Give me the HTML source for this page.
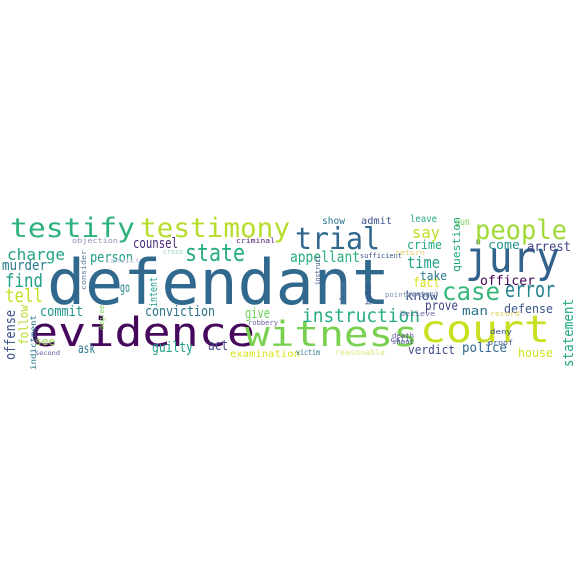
<!DOCTYPE html>
<html><head><meta charset="utf-8"><style>
html,body{margin:0;padding:0;background:#fff;width:576px;height:576px;overflow:hidden}
svg text{font-family:"DejaVu Sans Mono","Liberation Mono",monospace}
</style></head><body>
<svg id="cloud" width="576" height="576" xmlns="http://www.w3.org/2000/svg">
<rect width="576" height="576" fill="#fff"/>
</svg>
<script>
const words = ["defendant","evidence","witness","court","jury","trial","testify","testimony","people","state","case","error","instruction","charge","find","tell","murder","counsel","person","commit","conviction","give","guilty","act","ask","see","appellant","say","time","crime","come","arrest","officer","fact","take","know","prove","man","defense","verdict","police","house","show","admit","leave","gun","go","examination","objection","criminal","sufficient","victim","reasonable","robbery","second","cross","convict","return","record","believe","room","point","contend","call","death","shoot","deny","proof"];
const xs =  [47,30,245,420,465,295,10,140,475,185,442,505,302,7,5,5,2,133,90,40,145,245,152,208,78,35,290,412,407,407,488,527,480,413,420,405,425,462,504,408,462,518,322,361,410,455,120,230,72,236,360,296,335,248,35,163,105,395,490,400,405,385,408,390,392,392,490,488];
const ys =  [304,346,346,342,272,249,237,237,239,261,300,297,322,260,287,302,270,248,262,316,316,318,352,350,353,345,262,238,268,249,249,251,285,287,280,300,310,315,313,354,352,357,224,224,222,225,292,357,243,243,258,355,355,325,355,254,263,255,316,316,297,297,296,342,338,344,334,345];
const ws =  [343,225,173,130,95,85,125,150,92,60,58,50,118,58,38,38,45,45,43,43,70,25,41,20,17,20,70,28,33,35,32,44,55,27,27,33,33,26,49,47,45,35,23,31,27,15,10,70,46,39,42,24,50,30,25,20,35,30,30,35,25,22,30,20,22,22,22,25];
const fs =  [62,40,35,37,43,30,27,27,27,24,25,22,19,16,19,19,14,14,14,14,14,14,14,14,13,11,15,16,16,12,12,13,13,13,12,12,13,12,12,12,13,12,10,10,10,10,13,10,7,7,7,8,8,7,6,7,7,7,7,7,7,7,7,7,7,7,7,7];
const cols = ["#31688e","#46085c","#7ad151","#c8e020","#33638d","#31688e","#2db27d","#b5de2b","#a0da39","#25ac82","#35b779","#26828e","#25ac82","#21a585","#1fa187","#c2df23","#2a788e","#482878","#1f9e89","#1f958b","#2c728e","#6ece58","#1f9e89","#3f4788","#2a788e","#8fd744","#29af7f","#bddf26","#1fa187","#22a884","#20928c","#414487","#440154","#d8e219","#2a788e","#3b528b","#3e4a89","#2c728e","#3b528b","#3e4a89","#31688e","#d0e11c","#2a788e","#3b528b","#22a884","#75d054","#26828e","#d8e219","#8f8fb0","#4a1a6a","#3b528b","#2a788e","#e2e48a","#6a6aa0","#5a5a9a","#9ccfc4","#c0c0d8","#e0d060","#e0d060","#6a6aa0","#8090b0","#8090b0","#8090b0","#5a5a9a","#5a5a9a","#5a5a9a","#3b528b","#3b528b"];
const vert = [["offense",15,360,50,14,"#3b528b"],["follow",28,345,40,12,"#b5de2b"],["indictment",36,370,55,8,"#2a788e"],["consider",86,290,40,7,"#5a7a9a"],["intent",157,307,30,11,"#1f9e89"],["degree",104,330,25,7,"#7ad151"],["question",460,272,55,11,"#22a884"],["statement",573,367,68,14,"#22a884"],["place",345,305,22,8,"#5a7a9a"],["hold",371,305,20,8,"#3b528b"],["instruct",320,285,30,7,"#3b528b"]];
const svg = document.getElementById('cloud');
const NS = 'http://www.w3.org/2000/svg';
words.forEach((w,i)=>{
  const t = document.createElementNS(NS,'text');
  t.setAttribute('x', xs[i]); t.setAttribute('y', ys[i]);
  t.setAttribute('font-size', fs[i]); t.setAttribute('fill', cols[i]);
  t.setAttribute('textLength', ws[i]); t.setAttribute('lengthAdjust','spacingAndGlyphs');
  
  
  t.textContent = w; svg.appendChild(t);
});
vert.forEach(v=>{
  const t = document.createElementNS(NS,'text');
  t.setAttribute('transform', 'translate('+v[1]+','+v[2]+') rotate(-90)');
  t.setAttribute('font-size', v[4]); t.setAttribute('fill', v[5]);
  t.setAttribute('textLength', v[3]); t.setAttribute('lengthAdjust','spacingAndGlyphs');
  
  
  t.textContent = v[0]; svg.appendChild(t);
});
</script>
</body></html>
